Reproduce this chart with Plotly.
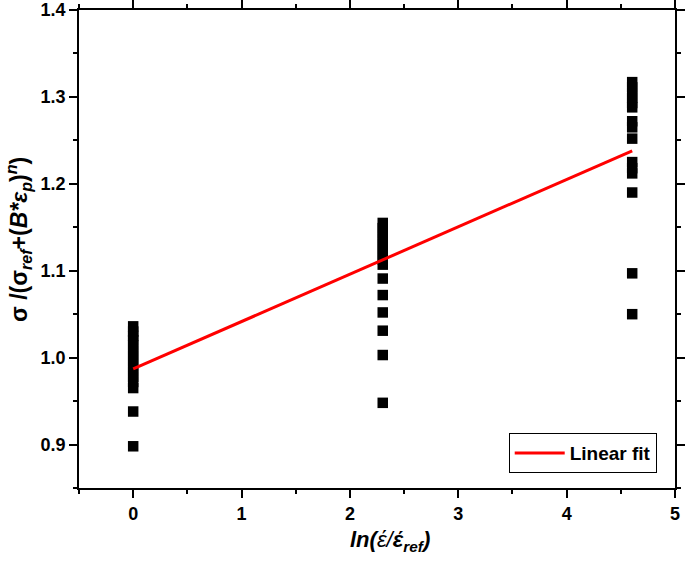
import plotly.graph_objects as go

x_vals = [0.0, 2.303, 4.605]
y_col0 = [1.036, 1.030, 1.025, 1.020, 1.014, 1.008, 1.002, 0.996, 0.990, 0.984,
          0.978, 0.972, 0.965, 0.938, 0.898]
y_col1 = [1.155, 1.149, 1.143, 1.137, 1.131, 1.125, 1.119, 1.113, 1.107,
          1.091, 1.072, 1.052, 1.031, 1.003, 0.948]
y_col2 = [1.317, 1.311, 1.305, 1.299, 1.293, 1.288, 1.272, 1.265, 1.252,
          1.225, 1.218, 1.212, 1.190, 1.097, 1.050]
fit_x = [0.0, 4.605]
fit_y = [0.987, 1.238]
x_title = "<b><i>ln(</i></b><i>έ/</i><b><i>έ<sub>ref</sub>)</i></b>"
y_title = "<b>σ /(σ<sub><i>ref</i></sub>+(<i>B*ε<sub>p</sub></i>)<sup><i>n</i></sup>)</b>"

xs, ys = [], []
for xv, col in zip(x_vals, [y_col0, y_col1, y_col2]):
    xs += [xv] * len(col)
    ys += col

fig = go.Figure()
fig.add_trace(go.Scatter(
    x=xs, y=ys, mode="markers", showlegend=False,
    marker=dict(symbol="square", size=10.5, color="black", line=dict(width=0)),
))
fig.add_trace(go.Scatter(
    x=fit_x, y=fit_y, mode="lines", name="Linear fit",
    line=dict(color="#ff0000", width=3),
))

font = "Liberation Sans, Arial, sans-serif"
axis_common = dict(
    showline=True, linecolor="black", linewidth=1.8, mirror="allticks",
    ticks="outside", ticklen=8, tickwidth=1.8, tickcolor="black",
    showgrid=False, zeroline=False, automargin=False,
    tickfont=dict(family=font, size=18, color="black", weight="bold"),
)
fig.update_xaxes(
    range=[-0.5, 5], tickmode="linear", tick0=0, dtick=1,
    minor=dict(ticks="outside", ticklen=4, tickwidth=1.8, tickcolor="black", dtick=0.5, tick0=0),
    **axis_common,
)
fig.update_yaxes(
    range=[0.85, 1.4], tickmode="linear", tick0=0.9, dtick=0.1, tickformat=".1f",
    minor=dict(ticks="outside", ticklen=4, tickwidth=1.8, tickcolor="black", dtick=0.05, tick0=0.85),
    **axis_common,
)
fig.add_annotation(
    text=x_title, xref="paper", yref="paper", x=0.522, y=0, yshift=-53,
    xanchor="center", yanchor="middle", showarrow=False,
    font=dict(family=font, size=22, color="black"),
)
fig.add_annotation(
    text=y_title, xref="paper", yref="paper", x=0, y=0.519, xshift=-61,
    xanchor="center", yanchor="middle", showarrow=False, textangle=-90,
    font=dict(family=font, size=23, color="black"),
)
fig.update_layout(
    width=685, height=568,
    margin=dict(l=79, r=10, t=10, b=80),
    plot_bgcolor="white", paper_bgcolor="white",
    legend=dict(
        x=0.721, y=0.031, xanchor="left", yanchor="bottom",
        bordercolor="black", borderwidth=1, bgcolor="white",
        font=dict(family=font, size=19, color="black", weight="bold"),
        itemwidth=50, tracegroupgap=0,
    ),
)
fig.write_html("out.html", config={"displayModeBar": False},
               post_script="document.body.style.margin='0px';")
